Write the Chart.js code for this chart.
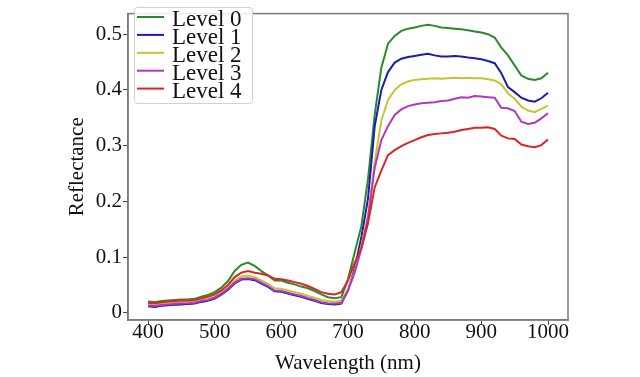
<!DOCTYPE html>
<html>
<head>
<meta charset="utf-8">
<script src="https://cdn.jsdelivr.net/npm/chart.js@4.4.1/dist/chart.umd.min.js"></script>
<style>
  html, body { margin: 0; padding: 0; background: #fff; }
  #wrap { width: 640px; height: 377px; }
</style>
</head>
<body>
<div id="wrap"><canvas id="canvas"></canvas></div>
<script>
/* data */
var wavelength = [400,410,420,430,440,450,460,470,480,490,500,510,520,530,540,550,560,570,580,590,
  600,610,620,630,640,650,660,670,680,690,700,710,720,730,740,750,760,770,780,790,
  800,810,820,830,840,850,860,870,880,890,900,910,920,930,940,950,960,970,980,990,1000];

var level0 = [0.020,0.019,0.021,0.022,0.023,0.024,0.024,0.025,0.029,0.032,0.037,0.045,0.057,0.075,0.086,0.090,0.084,0.075,0.067,0.058,
  0.058,0.054,0.051,0.047,0.044,0.039,0.033,0.028,0.026,0.028,0.060,0.108,0.155,0.240,0.355,0.440,0.483,0.497,0.506,0.510,
  0.512,0.515,0.517,0.515,0.512,0.511,0.510,0.509,0.507,0.505,0.503,0.500,0.494,0.476,0.462,0.444,0.426,0.420,0.418,0.421,0.431];
var level1 = [0.0115,0.0105,0.0125,0.0135,0.0145,0.015,0.0155,0.0165,0.0195,0.0215,0.0255,0.0325,0.0415,0.0525,0.0595,0.0605,0.0585,0.0525,0.0465,0.0385,
  0.0375,0.0345,0.0315,0.0285,0.0245,0.0215,0.0175,0.0155,0.015,0.0165,0.040,0.080,0.135,0.205,0.334,0.400,0.432,0.449,0.456,0.459,
  0.461,0.463,0.465,0.462,0.460,0.460,0.461,0.460,0.458,0.457,0.455,0.452,0.448,0.430,0.405,0.396,0.386,0.381,0.379,0.385,0.395];
var level2 = [0.016,0.015,0.017,0.018,0.019,0.0195,0.020,0.021,0.024,0.026,0.030,0.037,0.046,0.058,0.065,0.067,0.064,0.058,0.052,0.044,
  0.043,0.040,0.037,0.034,0.030,0.027,0.023,0.021,0.020,0.022,0.042,0.075,0.120,0.175,0.270,0.345,0.382,0.400,0.410,0.415,
  0.418,0.419,0.420,0.421,0.420,0.421,0.422,0.421,0.422,0.421,0.421,0.419,0.417,0.410,0.394,0.384,0.370,0.363,0.360,0.366,0.372];
var level3 = [0.013,0.012,0.014,0.015,0.016,0.0165,0.017,0.018,0.021,0.023,0.027,0.034,0.043,0.054,0.061,0.062,0.060,0.054,0.048,0.040,
  0.039,0.036,0.033,0.030,0.026,0.023,0.019,0.017,0.0165,0.018,0.040,0.072,0.115,0.170,0.260,0.310,0.335,0.355,0.365,0.371,
  0.374,0.376,0.377,0.378,0.380,0.381,0.384,0.387,0.386,0.389,0.388,0.387,0.386,0.368,0.367,0.362,0.343,0.339,0.341,0.349,0.358];
var level4 = [0.018,0.017,0.019,0.020,0.021,0.022,0.022,0.023,0.026,0.029,0.033,0.040,0.050,0.064,0.072,0.075,0.072,0.070,0.067,0.061,
  0.060,0.058,0.055,0.052,0.048,0.043,0.037,0.034,0.033,0.037,0.058,0.090,0.115,0.160,0.225,0.255,0.283,0.292,0.299,0.305,
  0.310,0.315,0.319,0.321,0.322,0.323,0.325,0.328,0.330,0.332,0.332,0.333,0.330,0.318,0.313,0.312,0.302,0.299,0.297,0.301,0.311];

var labels = ['Level 0', 'Level 1', 'Level 2', 'Level 3', 'Level 4'];
var series = [level0, level1, level2, level3, level4];
var colors = ['#2a8a2a', '#1c1cb0', '#c4c434', '#b038c0', '#dc2424'];
var xTicks = [400, 500, 600, 700, 800, 900, 1000];
var yTicks = [0, 0.1, 0.2, 0.3, 0.4, 0.5];

var serif = "'Liberation Serif', 'Times New Roman', serif";

var datasets = series.map(function(vals, i){
    return {
        label: labels[i],
        data: vals.map(function(v, j){ return {x: wavelength[j], y: v}; }),
        borderColor: colors[i],
        backgroundColor: colors[i],
        borderWidth: 2,
        pointRadius: 0,
        tension: 0,
        order: series.length - i   // later levels drawn on top, like matplotlib
    };
});

/* box round the plot */
var frame = {
    id: 'frame',
    afterDatasetsDraw: function(chart){
        var a = chart.chartArea, c = chart.ctx;
        c.save();
        c.strokeStyle = '#7a7a7a';
        c.lineWidth = 1.5;
        c.strokeRect(a.left, a.top, a.right - a.left, a.bottom - a.top);
        c.restore();
    }
};

/* legend in the upper left corner, with a frame */
var legendBox = {
    id: 'legendBox',
    afterDraw: function(chart){
        var c = chart.ctx;
        var bx = 134, by = 7, bw = 118, bh = 96;
        c.save();
        c.fillStyle = 'rgba(255,255,255,0.85)';
        c.strokeStyle = '#d0d0d0';
        c.lineWidth = 1;
        c.beginPath();
        c.roundRect(bx + 0.5, by + 0.5, bw, bh, 3);
        c.fill();
        c.stroke();
        c.font = '23px ' + serif;
        c.textBaseline = 'alphabetic';
        c.textAlign = 'left';
        for (var i = 0; i < labels.length; i++) {
            var base = 26 + i * 17.9;
            c.strokeStyle = colors[i];
            c.lineWidth = 2;
            c.beginPath();
            c.moveTo(137, base - 9);
            c.lineTo(164, base - 9);
            c.stroke();
            c.fillStyle = '#111';
            c.fillText(labels[i], 172, base);
        }
        c.restore();
    }
};

new Chart(document.getElementById('canvas'), {
    type: 'line',
    data: { datasets: datasets },
    plugins: [frame, legendBox],
    options: {
        responsive: true,
        maintainAspectRatio: false,
        animation: false,
        layout: { padding: { left: 0, right: 72, top: 3, bottom: 0 } },
        plugins: {
            legend: { display: false },
            tooltip: { enabled: false }
        },
        scales: {
            x: {
                type: 'linear',
                min: 370,
                max: 1030,
                afterBuildTicks: function(scale){
                    scale.ticks = xTicks.map(function(v){ return {value: v}; });
                },
                afterFit: function(scale){ scale.height = 57; },
                grid: { drawOnChartArea: false, drawTicks: true, tickLength: 5, color: '#444' },
                border: { display: true, color: '#7a7a7a', width: 1.5 },
                ticks: {
                    color: '#111',
                    padding: -3,
                    maxRotation: 0,
                    font: { family: serif, size: 21, lineHeight: 1 },
                    callback: function(v){ return String(v); }
                },
                title: {
                    display: true,
                    text: 'Wavelength (nm)',
                    color: '#111',
                    font: { family: serif, size: 21, lineHeight: 1.2 },
                    padding: { top: 0, bottom: 1 }
                }
            },
            y: {
                min: -0.013,
                max: 0.537,
                afterBuildTicks: function(scale){
                    scale.ticks = yTicks.map(function(v){ return {value: v}; });
                },
                afterFit: function(scale){ scale.width = 128; },
                grid: { drawOnChartArea: false, drawTicks: true, tickLength: 5, color: '#444' },
                border: { display: true, color: '#7a7a7a', width: 1.5 },
                ticks: {
                    color: '#111',
                    padding: 1,
                    font: { family: serif, size: 21 },
                    callback: function(v){ return String(Math.round(v * 10) / 10); }
                },
                title: {
                    display: true,
                    text: 'Reflectance',
                    color: '#111',
                    font: { family: serif, size: 21, lineHeight: 1.2 },
                    padding: { top: 65, bottom: 0 }
                }
            }
        }
    }
});
</script>
</body>
</html>
